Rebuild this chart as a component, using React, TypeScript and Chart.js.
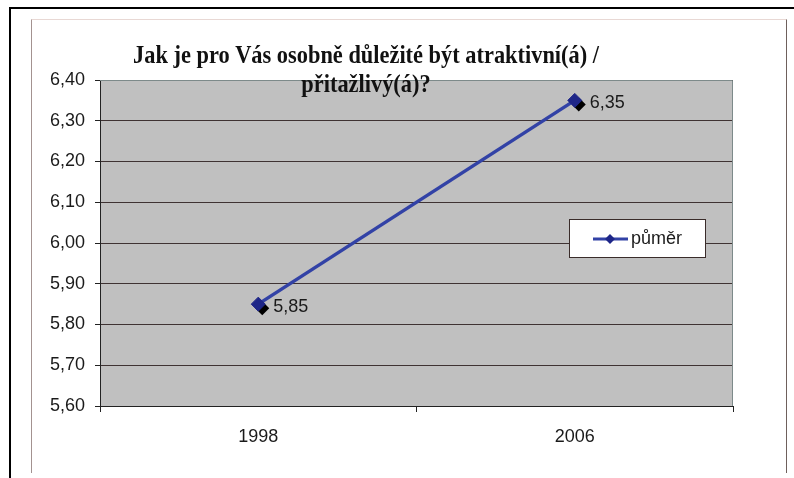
import React, { useEffect, useRef } from "react";
import { Chart, registerables } from "chart.js";

Chart.register(...registerables);

const CATEGORIES = ["1998", "2006"];
const VALUES = [5.85, 6.35];
const SERIES_LABEL = "půměr";
const Y_MIN = 5.6;
const Y_MAX = 6.4;
const Y_STEP = 0.1;
const TITLE_LINES = ["Jak je pro Vás osobně důležité být atraktivní(á) /", "přitažlivý(á)?"];

const fmt = (v: number) => v.toFixed(2).replace(".", ",");
const SANS = "'Liberation Sans', Arial, sans-serif";
const SERIF = "'Liberation Serif', 'Times New Roman', serif";

const decorPlugin = {
  id: "decor",
  beforeDraw(chart: any) {
    const { ctx, chartArea: a } = chart;
    ctx.save();
    ctx.fillStyle = "#ffffff";
    ctx.fillRect(0, 0, chart.width, chart.height);
    // outer black lines
    ctx.fillStyle = "#000000";
    ctx.fillRect(9, 7, chart.width - 9, 2);
    ctx.fillRect(9, 7, 2, chart.height - 7);
    // chart frame
    ctx.strokeStyle = "#e8d8d4";
    ctx.lineWidth = 1;
    ctx.beginPath();
    ctx.moveTo(31.5, 19.5);
    ctx.lineTo(786.5, 19.5);
    ctx.stroke();
    ctx.strokeStyle = "#a39290";
    ctx.beginPath();
    ctx.moveTo(31.5, 19.5);
    ctx.lineTo(31.5, 473);
    ctx.stroke();
    ctx.strokeStyle = "#6e605c";
    ctx.beginPath();
    ctx.moveTo(786.5, 19.5);
    ctx.lineTo(786.5, 473);
    ctx.stroke();
    // plot background
    ctx.fillStyle = "#c0c0c0";
    ctx.fillRect(a.left, a.top, a.right - a.left, a.bottom - a.top);
    ctx.restore();
  },
  beforeDatasetsDraw(chart: any) {
    const { ctx, chartArea: a } = chart;
    ctx.save();
    // plot right / top border
    ctx.strokeStyle = "#7d8a8a";
    ctx.lineWidth = 1;
    ctx.beginPath();
    ctx.moveTo(a.left, a.top + 0.5);
    ctx.lineTo(a.right - 0.5, a.top + 0.5);
    ctx.lineTo(a.right - 0.5, a.bottom);
    ctx.stroke();
    // marker shadows
    const meta = chart.getDatasetMeta(0);
    ctx.fillStyle = "#000000";
    meta.data.forEach((p: any) => {
      const x = p.x + 4;
      const y = p.y + 4;
      const r = 7;
      ctx.beginPath();
      ctx.moveTo(x, y - r);
      ctx.lineTo(x + r, y);
      ctx.lineTo(x, y + r);
      ctx.lineTo(x - r, y);
      ctx.closePath();
      ctx.fill();
    });
    ctx.restore();
  },
  afterDatasetsDraw(chart: any) {
    const { ctx, chartArea: a } = chart;
    const ds = chart.data.datasets[0];
    const meta = chart.getDatasetMeta(0);
    ctx.save();
    // data labels
    ctx.font = `18px ${SANS}`;
    ctx.fillStyle = "#1a1a1a";
    ctx.textAlign = "left";
    ctx.textBaseline = "middle";
    meta.data.forEach((p: any, i: number) => {
      ctx.fillText(fmt(ds.data[i]), p.x + 15, p.y + 3);
    });
    // legend
    const bw = 136;
    const bh = 38;
    const bx = a.right - 28 - bw;
    const by = a.top + 139;
    ctx.fillStyle = "#ffffff";
    ctx.fillRect(bx, by, bw, bh);
    ctx.strokeStyle = "#3a2c2a";
    ctx.lineWidth = 1;
    ctx.strokeRect(bx + 0.5, by + 0.5, bw, bh);
    const cy = by + bh / 2 + 1;
    ctx.strokeStyle = ds.borderColor;
    ctx.lineWidth = 3;
    ctx.beginPath();
    ctx.moveTo(bx + 24, cy);
    ctx.lineTo(bx + 59, cy);
    ctx.stroke();
    const mx = bx + 41;
    const r = 5;
    ctx.fillStyle = ds.pointBackgroundColor;
    ctx.beginPath();
    ctx.moveTo(mx, cy - r);
    ctx.lineTo(mx + r, cy);
    ctx.lineTo(mx, cy + r);
    ctx.lineTo(mx - r, cy);
    ctx.closePath();
    ctx.fill();
    ctx.fillStyle = "#1a1a1a";
    ctx.font = `18px ${SANS}`;
    ctx.textBaseline = "middle";
    ctx.fillText(ds.label, bx + 62, cy);
    // title
    ctx.font = `bold 25px ${SERIF}`;
    ctx.fillStyle = "#111111";
    ctx.textAlign = "center";
    ctx.textBaseline = "alphabetic";
    const w = ctx.measureText(TITLE_LINES[0]).width;
    const sx = 466 / w;
    const cx = 366;
    const baselines = [63, 92];
    TITLE_LINES.forEach((line, i) => {
      ctx.save();
      ctx.translate(cx, baselines[i]);
      ctx.scale(sx, 1);
      ctx.fillText(line, 0, 0);
      ctx.restore();
    });
    ctx.restore();
  },
};

export default function App() {
  const ref = useRef<HTMLCanvasElement | null>(null);
  useEffect(() => {
    if (!ref.current) return;
    const chart = new Chart(ref.current, {
      type: "line",
      data: {
        labels: CATEGORIES,
        datasets: [
          {
            label: SERIES_LABEL,
            data: VALUES,
            borderColor: "#3242a6",
            borderWidth: 3.5,
            pointStyle: "rectRot",
            pointRadius: 7,
            pointBackgroundColor: "#1e2688",
            pointBorderColor: "#1e2688",
            pointBorderWidth: 1,
            tension: 0,
          },
        ],
      },
      options: {
        animation: false,
        responsive: false,
        devicePixelRatio: 1,
        layout: { padding: { left: 0, right: 61, top: 80, bottom: 0 } },
        plugins: {
          legend: { display: false },
          title: { display: false },
          tooltip: { enabled: false },
        },
        scales: {
          x: {
            type: "category",
            offset: true,
            grid: {
              offset: true,
              drawOnChartArea: false,
              drawTicks: true,
              tickLength: 6,
              color: "#222222",
            },
            border: { display: true, color: "#222222", width: 1 },
            ticks: {
              font: { family: SANS, size: 18 },
              color: "#1a1a1a",
              padding: 14,
            },
            afterFit: (s: any) => {
              s.height = 72;
            },
          },
          y: {
            min: Y_MIN,
            max: Y_MAX,
            grid: {
              color: "#3f3333",
              tickColor: "#222222",
              tickLength: 5,
              drawTicks: true,
            },
            border: { display: true, color: "#222222", width: 1 },
            ticks: {
              stepSize: Y_STEP,
              font: { family: SANS, size: 18 },
              color: "#1a1a1a",
              padding: 10,
              callback: (v: any) => fmt(Number(v)),
            },
            afterFit: (s: any) => {
              s.width = 100;
            },
          },
        },
      },
      plugins: [decorPlugin],
    });
    return () => chart.destroy();
  }, []);
  return (
    <div style={{ position: "fixed", left: 0, top: 0, width: 794, height: 478 }}>
      <canvas ref={ref} width={794} height={478} style={{ display: "block" }} />
    </div>
  );
}
